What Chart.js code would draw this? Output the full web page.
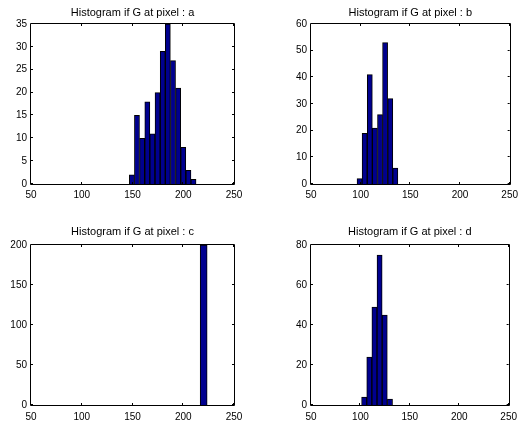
<!DOCTYPE html>
<html><head><meta charset="utf-8">
<script src="https://cdn.jsdelivr.net/npm/chart.js@4"></script>
<style>
html,body{margin:0;padding:0;background:#fff;width:523px;height:424px;overflow:hidden}
canvas{position:absolute}
</style></head><body>
<canvas id="ca" style="left:0;top:0" width="262" height="212"></canvas>
<canvas id="cb" style="left:262px;top:0" width="261" height="212"></canvas>
<canvas id="cc" style="left:0;top:212px" width="262" height="212"></canvas>
<canvas id="cd" style="left:262px;top:212px" width="261" height="212"></canvas>
<script>
// ---- data ----
const xTicks = [50, 100, 150, 200, 250];
const titleA = "Histogram if G at pixel : a";
const titleB = "Histogram if G at pixel : b";
const titleC = "Histogram if G at pixel : c";
const titleD = "Histogram if G at pixel : d";
const binsA = [149.4, 154.4, 159.5, 164.6, 169.6, 174.7, 179.8, 184.8, 189.9, 195.0, 200.0, 205.1, 210.1];
const countsA = [2, 15, 10, 18, 11, 20, 29, 35, 27, 21, 8, 3, 1];
const binsB = [98.9, 104.0, 109.2, 114.3, 119.5, 124.6, 129.8, 134.9];
const countsB = [2, 19, 41, 21, 26, 53, 32, 6];
const binsC = [220.1];
const countsC = [200];
const binsD = [103.8, 109.0, 114.2, 119.4, 124.6, 129.9];
const countsD = [4, 24, 49, 75, 45, 3];
const yTicksA = [0, 5, 10, 15, 20, 25, 30, 35];
const yTicksB = [0, 10, 20, 30, 40, 50, 60];
const yTicksC = [0, 50, 100, 150, 200];
const yTicksD = [0, 20, 40, 60, 80];

const FONT = "'Liberation Sans', Arial, Helvetica, sans-serif";

const boxPlugin = {
  id: 'matlabBox',
  afterDraw(chart) {
    const ctx = chart.ctx, a = chart.chartArea;
    const xs = chart.scales.x, ys = chart.scales.y;
    ctx.save();
    ctx.strokeStyle = '#000';
    ctx.lineWidth = 1;
    ctx.beginPath();
    ctx.rect(Math.round(a.left) - 0.5, Math.round(a.top) - 0.5, Math.round(a.right - a.left) + 1, Math.round(a.bottom - a.top) + 1);
    ctx.stroke();
    const L = 2;
    ctx.beginPath();
    xTicks.forEach(v => {
      const px = Math.round(xs.getPixelForValue(v)) - 0.5;
      ctx.moveTo(px, a.bottom); ctx.lineTo(px, a.bottom - L);
      ctx.moveTo(px, a.top); ctx.lineTo(px, a.top + L);
    });
    ys.ticks.forEach(t => {
      const py = Math.round(ys.getPixelForValue(t.value)) - 0.5;
      ctx.moveTo(a.left, py); ctx.lineTo(a.left + L, py);
      ctx.moveTo(a.right, py); ctx.lineTo(a.right - L, py);
    });
    ctx.stroke();
    ctx.restore();
  }
};

function make(id, bins, counts, title, yTicks, o) {
  const ymax = yTicks[yTicks.length - 1];
  const ystep = yTicks[1] - yTicks[0];
  const ds = {
    data: bins.map((b, i) => ({x: b, y: counts[i]})),
    backgroundColor: '#00008F',
    borderColor: '#000000',
    borderWidth: 1,
    barPercentage: 1,
    categoryPercentage: 1
  };
  if (o.barThickness) ds.barThickness = o.barThickness;
  return new Chart(document.getElementById(id), {
    type: 'bar',
    data: { datasets: [ds] },
    options: {
      responsive: false,
      animation: false,
      devicePixelRatio: 1,
      layout: { padding: { left: 0, right: o.right, top: 0, bottom: 0 } },
      plugins: {
        legend: { display: false },
        tooltip: { enabled: false },
        title: {
          display: true, text: title, color: '#000', fullSize: false,
          font: { family: FONT, size: 11, weight: 'normal', lineHeight: 1.2 },
          padding: { top: o.tTop, bottom: o.tBot }
        }
      },
      scales: {
        x: {
          type: 'linear', min: 50, max: 250, offset: false,
          grid: { display: false, drawTicks: false },
          border: { display: false },
          afterBuildTicks: s => { s.ticks = xTicks.map(v => ({value: v})); },
          ticks: { color: '#000', font: { family: FONT, size: 10 }, padding: o.xPad, maxRotation: 0, autoSkip: false },
          afterFit: s => { s.height = o.xH; }
        },
        y: {
          min: 0, max: ymax,
          grid: { display: false, drawTicks: false },
          border: { display: false },
          afterBuildTicks: s => { s.ticks = yTicks.map(v => ({value: v})); },
          ticks: { color: '#000', font: { family: FONT, size: 10 }, padding: 4, stepSize: ystep },
          afterFit: s => { s.width = o.left; }
        }
      }
    },
    plugins: [boxPlugin]
  });
}

make('ca', binsA, countsA, titleA, yTicksA, { left: 31, right: 28, tTop: 6, tBot: 4.8, xH: 28, xPad: 5 });
make('cb', binsB, countsB, titleB, yTicksB, { left: 49, right: 9, tTop: 6, tBot: 4.8, xH: 28, xPad: 5 });
make('cc', binsC, countsC, titleC, yTicksC, { left: 31, right: 28, tTop: 13, tBot: 6.8, xH: 19, xPad: 6, barThickness: 7 });
make('cd', binsD, countsD, titleD, yTicksD, { left: 49, right: 9, tTop: 13, tBot: 6.8, xH: 19, xPad: 6 });
</script>
</body></html>
